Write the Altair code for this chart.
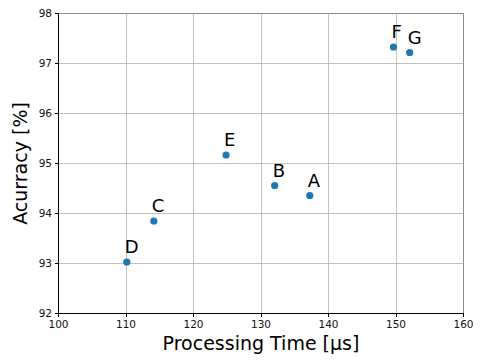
import altair as alt
import pandas as pd

labels = ["A", "B", "C", "D", "E", "F", "G"]
time_us = [137.3, 132.1, 114.2, 110.2, 124.9, 149.7, 152.1]
accuracy = [94.35, 94.55, 93.84, 93.02, 95.16, 97.32, 97.21]

df = pd.DataFrame({"label": labels, "time": time_us, "acc": accuracy})

font = "DejaVu Sans"

base = alt.Chart(df).encode(
    x=alt.X("time:Q", scale=alt.Scale(domain=[100, 160], nice=False, zero=False),
            axis=alt.Axis(values=[100, 110, 120, 130, 140, 150, 160], title="Processing Time [µs]")),
    y=alt.Y("acc:Q", scale=alt.Scale(domain=[92, 98], nice=False, zero=False),
            axis=alt.Axis(values=[92, 93, 94, 95, 96, 97, 98], title="Acurracy [%]")),
)

points = base.mark_circle(size=52, color="#1f77b4", opacity=1)
text = base.mark_text(align="left", baseline="bottom", dx=-2, dy=-5, fontSize=18,
                      font=font, color="black").encode(text="label:N")

chart = (points + text).properties(
    width=405, height=300,
    padding={"left": 50, "top": 5, "right": 10, "bottom": 41},
    autosize=alt.AutoSizeParams(type="none"),
).configure_view(stroke="black", strokeWidth=1).configure_axis(
    labelFont=font, labelFontSize=10.5, labelColor="#111", titleFont=font,
    titleFontSize=19, titleFontWeight="normal", titleColor="black",
    grid=True, gridColor="#b0b0b0", gridWidth=0.8, domainColor="black",
    tickColor="black", tickSize=3.5, labelPadding=3, labelFlush=False,
).configure_axisX(titlePadding=4).configure_axisY(titlePadding=8)

chart.save("out.html", embed_options={"renderer": "svg", "actions": False})
